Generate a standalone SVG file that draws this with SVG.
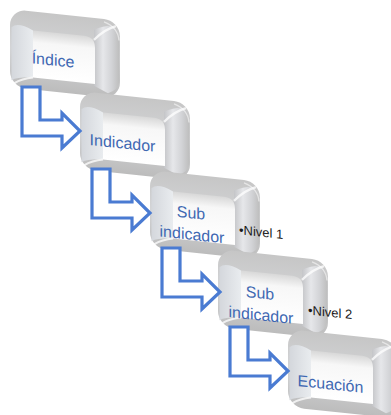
<svg xmlns="http://www.w3.org/2000/svg" xmlns:xlink="http://www.w3.org/1999/xlink" width="391" height="415" viewBox="0 0 391 415">
  <style>
    .lbl { font-family: "Liberation Sans", Arial, sans-serif; font-size: 16px; fill: #4068b2; text-anchor: middle; }
    .sub { font-family: "Liberation Sans", Arial, sans-serif; font-size: 13px; fill: #1a1a1a; }
    .arrow { fill: #ffffff; stroke: #4a7bd2; stroke-width: 3.2; stroke-linejoin: miter; }
  </style>
  <defs>
    <linearGradient id="frame" x1="0" y1="0" x2="0" y2="1">
      <stop offset="0" stop-color="#c6c6c6"/>
      <stop offset="0.5" stop-color="#d3d4d6"/>
      <stop offset="1" stop-color="#bcbcbc"/>
    </linearGradient>
    <linearGradient id="rightFace" x1="0" y1="0" x2="1" y2="0">
      <stop offset="0" stop-color="#c4c5c8"/>
      <stop offset="0.35" stop-color="#e6e7ea"/>
      <stop offset="0.7" stop-color="#d2d3d6"/>
      <stop offset="1" stop-color="#bdbdbd"/>
    </linearGradient>
    <linearGradient id="leftFace" x1="0" y1="0" x2="1" y2="0">
      <stop offset="0" stop-color="#d4d7dc"/>
      <stop offset="1" stop-color="#e9ecef"/>
    </linearGradient>
    <linearGradient id="inner" x1="0" y1="0" x2="0" y2="1">
      <stop offset="0" stop-color="#d8d8d8"/>
      <stop offset="0.25" stop-color="#f7f7f7"/>
      <stop offset="1" stop-color="#ffffff"/>
    </linearGradient>
    <g id="boxShape">
      <rect x="0" y="0" width="110" height="78" rx="16" fill="url(#frame)"/>
      <path d="M84,12 Q95,6 104,6 Q109.5,12 109.5,24 L109.5,60 Q108,70 98,74 L84,68 Z" fill="url(#rightFace)"/>
      <path d="M1.5,18 Q8,12 23,19 L23,66 Q8,67 1.5,71 Z" fill="url(#leftFace)"/>
      <path d="M23,19 L74,19 Q85,19 85,30 L85,66 L23,66 Z" fill="url(#inner)"/>
      <path d="M84,22 Q95,10 106,6" stroke="#ffffff" stroke-width="2.2" fill="none" opacity="0.75"/>
      <path d="M23,66 Q12,68 4,74" stroke="#ffffff" stroke-width="2" fill="none" opacity="0.75"/>
      <path d="M94,3 Q108,7 109,20" stroke="#ffffff" stroke-width="1.4" fill="none" opacity="0.55"/>
    </g>
  </defs>

  <g id="node-indice" transform="translate(10,9) skewY(6)">
    <use xlink:href="#boxShape" href="#boxShape"/>
    <text class="lbl" x="43" y="52">Índice</text>
  </g>

  <g id="node-indicador" transform="translate(80,91) skewY(6)">
    <use xlink:href="#boxShape" href="#boxShape"/>
    <text class="lbl" x="42.5" y="53">Indicador</text>
  </g>

  <g id="node-subindicador1" transform="translate(150,170) skewY(6)">
    <use xlink:href="#boxShape" href="#boxShape"/>
    <text class="lbl" x="41" y="44">Sub</text>
    <text class="lbl" x="42" y="65.5">indicador</text>
    <text class="sub" x="89" y="55">•Nivel 1</text>
  </g>

  <g id="node-subindicador2" transform="translate(218,249) skewY(6)">
    <use xlink:href="#boxShape" href="#boxShape"/>
    <text class="lbl" x="42" y="45">Sub</text>
    <text class="lbl" x="43" y="67">indicador</text>
    <text class="sub" x="90" y="56">•Nivel 2</text>
  </g>

  <g id="node-ecuacion" transform="translate(288,329) skewY(6)">
    <use xlink:href="#boxShape" href="#boxShape"/>
    <text class="lbl" x="42.5" y="56">Ecuación</text>
  </g>

  <g id="connectors">
    <polygon class="arrow" transform="translate(10,9)" points="12,78 30,78 30,111 52,111 52,104 70,122 52,139 52,127 12,127"/>
    <polygon class="arrow" transform="translate(80,91)" points="12,78 30,78 30,111 52,111 52,104 70,122 52,139 52,127 12,127"/>
    <polygon class="arrow" transform="translate(150,170)" points="12,78 30,78 30,111 52,111 52,104 70,122 52,139 52,127 12,127"/>
    <polygon class="arrow" transform="translate(218,249)" points="12,78 30,78 30,111 52,111 52,104 70,122 52,139 52,127 12,127"/>
  </g>
</svg>
